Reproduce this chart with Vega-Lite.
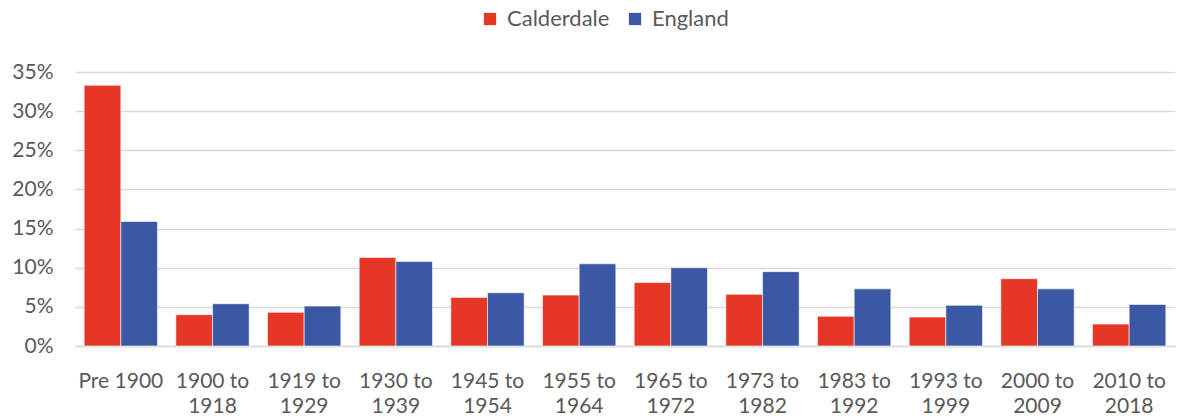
{
  "$schema": "https://vega.github.io/schema/vega-lite/v6.json",
  "width": 1100,
  "height": 274,
  "autosize": {"type": "none"},
  "padding": {"left": 75, "top": 72, "right": 3, "bottom": 73},
  "background": "white",
  "config": {
    "view": {"stroke": null},
    "font": "Lato",
    "axis": {"labelFont": "Lato", "labelColor": "#595959", "labelFontSize": 21},
    "legend": {"labelFont": "Lato", "labelColor": "#595959", "labelFontSize": 21}
  },
  "data": {
    "values": [
      {"period": "Pre 1900", "area": "Calderdale", "share": 0.333},
      {"period": "Pre 1900", "area": "England", "share": 0.159},
      {"period": "1900 to 1918", "area": "Calderdale", "share": 0.040},
      {"period": "1900 to 1918", "area": "England", "share": 0.054},
      {"period": "1919 to 1929", "area": "Calderdale", "share": 0.043},
      {"period": "1919 to 1929", "area": "England", "share": 0.051},
      {"period": "1930 to 1939", "area": "Calderdale", "share": 0.113},
      {"period": "1930 to 1939", "area": "England", "share": 0.108},
      {"period": "1945 to 1954", "area": "Calderdale", "share": 0.062},
      {"period": "1945 to 1954", "area": "England", "share": 0.068},
      {"period": "1955 to 1964", "area": "Calderdale", "share": 0.065},
      {"period": "1955 to 1964", "area": "England", "share": 0.105},
      {"period": "1965 to 1972", "area": "Calderdale", "share": 0.081},
      {"period": "1965 to 1972", "area": "England", "share": 0.100},
      {"period": "1973 to 1982", "area": "Calderdale", "share": 0.066},
      {"period": "1973 to 1982", "area": "England", "share": 0.095},
      {"period": "1983 to 1992", "area": "Calderdale", "share": 0.038},
      {"period": "1983 to 1992", "area": "England", "share": 0.073},
      {"period": "1993 to 1999", "area": "Calderdale", "share": 0.037},
      {"period": "1993 to 1999", "area": "England", "share": 0.052},
      {"period": "2000 to 2009", "area": "Calderdale", "share": 0.086},
      {"period": "2000 to 2009", "area": "England", "share": 0.073},
      {"period": "2010 to 2018", "area": "Calderdale", "share": 0.028},
      {"period": "2010 to 2018", "area": "England", "share": 0.053}
    ]
  },
  "mark": {"type": "bar", "stroke": "white", "strokeWidth": 0.6},
  "encoding": {
    "x": {
      "field": "period",
      "type": "nominal",
      "sort": null,
      "scale": {"paddingInner": 0.2, "paddingOuter": 0.1},
      "axis": {
        "title": null,
        "labelAngle": 0,
        "ticks": false,
        "domainColor": "#d9d9d9",
        "domainWidth": 1.5,
        "labelPadding": 24,
        "labelLineHeight": 25.5,
        "labelExpr": "datum.label == 'Pre 1900' ? datum.label : [slice(datum.label, 0, 7), slice(datum.label, 8)]"
      }
    },
    "xOffset": {"field": "area", "type": "nominal", "sort": ["Calderdale", "England"]},
    "y": {
      "field": "share",
      "type": "quantitative",
      "scale": {"domain": [0, 0.35], "nice": false},
      "axis": {
        "title": null,
        "format": ".0%",
        "values": [0, 0.05, 0.1, 0.15, 0.2, 0.25, 0.3, 0.35],
        "ticks": false,
        "domain": false,
        "gridColor": "#d9d9d9",
        "gridWidth": 1.5,
        "labelPadding": 22
      }
    },
    "color": {
      "field": "area",
      "type": "nominal",
      "scale": {"domain": ["Calderdale", "England"], "range": ["#E53626", "#3C57A4"]},
      "legend": {
        "title": null,
        "orient": "none",
        "direction": "horizontal",
        "legendX": 404,
        "legendY": -64,
        "symbolType": "square",
        "symbolSize": 150,
        "symbolStrokeWidth": 0,
        "columnPadding": 14,
        "labelOffset": 6,
        "labelFontSize": 22
      }
    }
  }
}
